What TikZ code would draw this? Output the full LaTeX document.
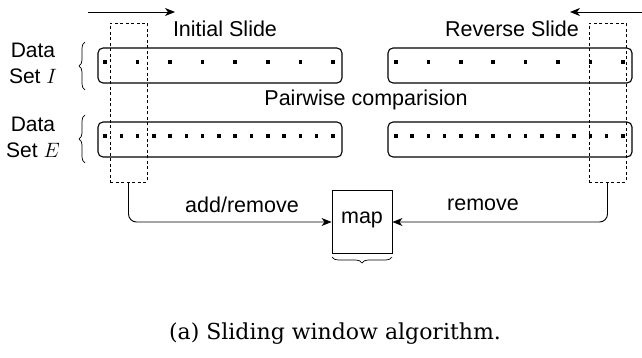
\documentclass[tikz,border=0pt]{standalone}
\usepackage{fontspec}
\setsansfont{Liberation Sans}
\newfontfamily\captionfont{DejaVu Serif}
\usetikzlibrary{arrows.meta,positioning,decorations.pathreplacing}

\begin{document}
\begin{tikzpicture}
	[x=1pt,y=-1pt,
		datarow/.style={rectangle, rounded corners=5pt, draw=black, line width=1.1pt, minimum width=244pt, minimum height=35pt, inner sep=0pt},
		slidewin/.style={rectangle, draw=black, dashed, dash pattern=on 3pt off 2.5pt, line width=0.9pt, minimum width=37pt, minimum height=159pt, inner sep=0pt},
		mapbox/.style={rectangle, draw=black, line width=0.9pt, minimum width=60pt, minimum height=63pt, inner sep=0pt},
		sidetext/.style={font=\sffamily\fontsize{21}{26}\selectfont, align=center},
		plaintext/.style={font=\sffamily\fontsize{21.5}{25}\selectfont},
		dotmark/.style={fill=black, minimum size=3.5pt, inner sep=0pt, rectangle},
		slidearrow/.style={-{Stealth[length=10pt,width=8pt,inset=3pt]}, line width=0.9pt},
	]
	\useasboundingbox (0,0) rectangle (642,358);

	\node[datarow] (initrow) at (220,65.5) {};
	\node[datarow] (revrow) at (510,65.5) {};
	\node[datarow] (initrowE) at (220,139.5) {};
	\node[datarow] (revrowE) at (510,139.5) {};

	% points of the data sets
	\foreach \i in {0,...,7}{
		\node[dotmark] (pi\i) at (105+\i*32.55,62) {};
		\node[dotmark] (qi\i) at (396+\i*32.4,62) {};
	}
	\foreach \i in {0,...,14}{
		\node[dotmark] (pe\i) at (105+\i*16.28,136) {};
		\node[dotmark] (qe\i) at (396+\i*16.2,136) {};
	}

	\node[slidewin] (winleft) at (128.5,102.5) {};
	\node[slidewin] (winright) at (607.5,102.5) {};

	\node[plaintext] (texttitleinit) at (225,29) {Initial Slide};
	\node[plaintext] (texttitlerev) at (512,29) {Reverse Slide};
	\node[plaintext] (textpair) at (366,100) {Pairwise comparision};

	\node[sidetext] (setI) at (33,63) {Data\\Set $I$};
	\node[sidetext] (setE) at (33,137) {Data\\Set $E$};

	\draw[decorate, decoration={brace, amplitude=6pt}, line width=0.7pt] (85,90) -- (85,42);
	\draw[decorate, decoration={brace, amplitude=6pt}, line width=0.7pt] (85,163) -- (85,115);

	\coordinate (initstart) at (88,12);
	\coordinate (initend) at (175,12);
	\coordinate (revstart) at (642,12);
	\coordinate (revend) at (570,12);
	\draw[slidearrow] (initstart) -- (initend);
	\draw[slidearrow] (revstart) -- (revend);

	\node[mapbox] (map) at (362,222) {};
	\node[plaintext] (maptext) at (362,220) {map};
	\draw[decorate, decoration={brace, amplitude=6pt}, line width=0.7pt] (392,257) -- (332,257);

	\draw[slidearrow, rounded corners=8pt] (winleft.south) |- (map.west);
	\draw[slidearrow, rounded corners=8pt] (winright.south) |- (map.east);
	\node[plaintext] (addtext) at (242,205) {add/remove};
	\node[plaintext] (remtext) at (483,205) {remove};

	\node[font=\captionfont\fontsize{22}{26}\selectfont] (caption) at (335,334) {(a) Sliding window algorithm.};

\end{tikzpicture}
\end{document}
